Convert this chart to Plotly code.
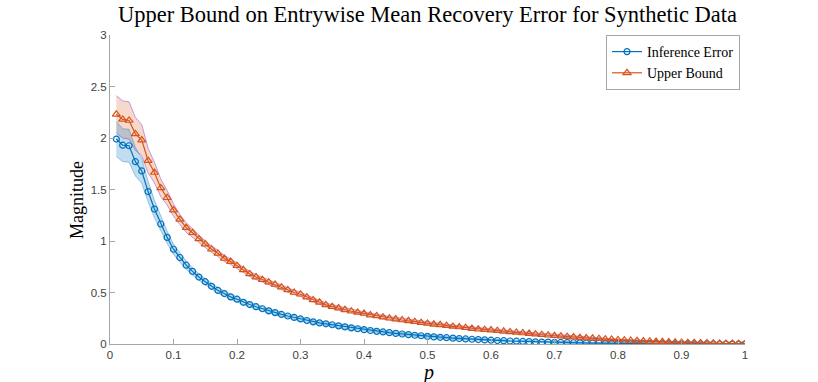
import plotly.graph_objects as go

# sampling probability p = 0.01 ... 1.00
p_values = [round(0.01 * k, 2) for k in range(1, 101)]

inference_error = [
    1.99, 1.93, 1.925, 1.77, 1.68, 1.48, 1.31, 1.165, 1.035, 0.92,
    0.84, 0.765, 0.705, 0.65, 0.605, 0.56, 0.52, 0.49, 0.458, 0.435,
    0.405, 0.383, 0.362, 0.342, 0.322, 0.305, 0.287, 0.272, 0.258, 0.243,
    0.228, 0.215, 0.205, 0.196, 0.187, 0.176, 0.166, 0.157, 0.148, 0.139,
    0.131, 0.123, 0.117, 0.110, 0.103, 0.097, 0.091, 0.085, 0.080, 0.074,
    0.069, 0.065, 0.061, 0.057, 0.053, 0.049, 0.046, 0.043, 0.040, 0.037,
    0.034, 0.032, 0.029, 0.027, 0.025, 0.023, 0.021, 0.019, 0.018, 0.016,
    0.015, 0.013, 0.012, 0.011, 0.010, 0.009, 0.008, 0.007, 0.006, 0.006,
    0.005, 0.004, 0.004, 0.003, 0.003, 0.002, 0.002, 0.002, 0.001, 0.001,
    0.001, 0.001, 0.001, 0.001, 0.000, 0.000, 0.000, 0.000, 0.000, 0.000,
]

inference_spread = [
    0.17, 0.16, 0.16, 0.14, 0.12, 0.10, 0.085, 0.07, 0.06, 0.05,
    0.045, 0.04, 0.035, 0.032, 0.03, 0.028, 0.027, 0.026, 0.025, 0.024,
    0.023, 0.023, 0.022, 0.022, 0.021, 0.021, 0.020, 0.020, 0.020, 0.019,
    0.019, 0.019, 0.018, 0.018, 0.018, 0.017, 0.017, 0.017, 0.016, 0.016,
    0.016, 0.016, 0.015, 0.015, 0.015, 0.015, 0.014, 0.014, 0.014, 0.014,
    0.013, 0.013, 0.013, 0.013, 0.012, 0.012, 0.012, 0.012, 0.011, 0.011,
    0.011, 0.011, 0.010, 0.010, 0.010, 0.010, 0.009, 0.009, 0.009, 0.009,
    0.008, 0.008, 0.008, 0.008, 0.007, 0.007, 0.007, 0.007, 0.006, 0.006,
    0.006, 0.006, 0.005, 0.005, 0.005, 0.005, 0.005, 0.004, 0.004, 0.004,
    0.004, 0.004, 0.003, 0.003, 0.003, 0.003, 0.003, 0.003, 0.003, 0.003,
]

upper_bound = [
    2.23, 2.18, 2.17, 2.04, 1.98, 1.78, 1.665, 1.515, 1.42, 1.30,
    1.21, 1.13, 1.08, 1.02, 0.97, 0.92, 0.88, 0.83, 0.80, 0.76,
    0.72, 0.68, 0.65, 0.625, 0.60, 0.578, 0.552, 0.525, 0.50, 0.483,
    0.455, 0.428, 0.405, 0.38, 0.363, 0.349, 0.332, 0.318, 0.307, 0.296,
    0.281, 0.273, 0.260, 0.250, 0.242, 0.233, 0.225, 0.216, 0.207, 0.200,
    0.191, 0.186, 0.178, 0.171, 0.165, 0.158, 0.150, 0.143, 0.139, 0.135,
    0.129, 0.123, 0.117, 0.112, 0.107, 0.101, 0.095, 0.090, 0.085, 0.080,
    0.076, 0.071, 0.067, 0.062, 0.058, 0.055, 0.051, 0.047, 0.044, 0.040,
    0.037, 0.034, 0.031, 0.029, 0.026, 0.024, 0.021, 0.019, 0.017, 0.015,
    0.013, 0.012, 0.010, 0.009, 0.007, 0.006, 0.005, 0.004, 0.002, 0.000,
]

upper_spread = [
    0.18, 0.18, 0.18, 0.16, 0.15, 0.12, 0.10, 0.085, 0.07, 0.06,
    0.05, 0.045, 0.04, 0.036, 0.033, 0.031, 0.030, 0.029, 0.028, 0.027,
    0.026, 0.025, 0.024, 0.024, 0.023, 0.023, 0.022, 0.022, 0.021, 0.021,
    0.020, 0.020, 0.020, 0.019, 0.019, 0.019, 0.018, 0.018, 0.018, 0.017,
    0.017, 0.017, 0.016, 0.016, 0.016, 0.016, 0.015, 0.015, 0.015, 0.015,
    0.014, 0.014, 0.014, 0.014, 0.013, 0.013, 0.013, 0.013, 0.012, 0.012,
    0.012, 0.012, 0.011, 0.011, 0.011, 0.011, 0.010, 0.010, 0.010, 0.010,
    0.009, 0.009, 0.009, 0.009, 0.008, 0.008, 0.008, 0.008, 0.007, 0.007,
    0.007, 0.007, 0.006, 0.006, 0.006, 0.006, 0.005, 0.005, 0.005, 0.005,
    0.005, 0.004, 0.004, 0.004, 0.004, 0.004, 0.003, 0.003, 0.003, 0.003,
]

x_ticks = [0, 0.1, 0.2, 0.3, 0.4, 0.5, 0.6, 0.7, 0.8, 0.9, 1]
x_tick_text = ["0", "0.1", "0.2", "0.3", "0.4", "0.5", "0.6", "0.7", "0.8", "0.9", "1"]
y_ticks = [0, 0.5, 1, 1.5, 2, 2.5, 3]
y_tick_text = ["0", "0.5", "1", "1.5", "2", "2.5", "3"]

BLUE = "#0072BD"
ORANGE = "#D95319"
SERIF = "Liberation Serif, Times New Roman, serif"
SANS = "Liberation Sans, Arial, sans-serif"

W, H = 818, 382
ML, MR, MT, MB = 110, 73, 35, 38


def band(mean, spread, fill, edge):
    upper = [m + s for m, s in zip(mean, spread)]
    lower = [m - s for m, s in zip(mean, spread)]
    return go.Scatter(
        x=p_values + p_values[::-1],
        y=upper + lower[::-1],
        mode="lines",
        fill="toself",
        fillcolor=fill,
        line=dict(color=edge, width=1),
        hoverinfo="skip",
        showlegend=False,
    )


fig = go.Figure()
fig.add_trace(band(upper_bound, upper_spread, "rgba(217,83,25,0.22)", "rgba(175,120,210,0.75)"))
fig.add_trace(band(inference_error, inference_spread, "rgba(0,114,189,0.24)", "rgba(0,114,189,0.35)"))

fig.add_trace(go.Scatter(
    x=p_values, y=inference_error, name="Inference Error",
    mode="lines+markers",
    line=dict(color=BLUE, width=1.2),
    marker=dict(symbol="circle-open", size=6, color=BLUE, line=dict(width=1.2, color=BLUE)),
))
fig.add_trace(go.Scatter(
    x=p_values, y=upper_bound, name="Upper Bound",
    mode="lines+markers",
    line=dict(color=ORANGE, width=1.2),
    marker=dict(symbol="triangle-up-open", size=7, color=ORANGE, line=dict(width=1.2, color=ORANGE)),
))

axis_common = dict(
    showline=True, linecolor="#a6a6a6", linewidth=1,
    ticks="inside", ticklen=5, tickcolor="#a6a6a6",
    showgrid=False, zeroline=False, automargin=False,
    tickfont=dict(family=SANS, size=11.5, color="#404040"),
    mirror=False,
)

plot_w = W - ML - MR
plot_h = H - MT - MB

fig.update_layout(
    width=W, height=H,
    margin=dict(l=ML, r=MR, t=MT, b=MB, autoexpand=False),
    paper_bgcolor="white", plot_bgcolor="white",
    title=dict(
        text="Upper Bound on Entrywise Mean Recovery Error for Synthetic Data",
        font=dict(family=SERIF, size=22.5, color="#000000"),
        x=(ML + plot_w / 2) / W, xanchor="center",
        y=1 - 14 / H, yanchor="middle",
    ),
    xaxis=dict(range=[0, 1], tickvals=x_ticks, ticktext=x_tick_text, **axis_common),
    yaxis=dict(range=[0, 3], tickvals=y_ticks, ticktext=y_tick_text, **axis_common),
    legend=dict(
        x=(740 - ML) / plot_w, y=1.0, xanchor="right", yanchor="top",
        bgcolor="white", bordercolor="#a6a6a6", borderwidth=1,
        font=dict(family=SERIF, size=14, color="#000000"),
        itemwidth=30, tracegroupgap=0,
    ),
    showlegend=True,
    annotations=[
        dict(text="<i>p</i>", xref="paper", yref="paper",
             x=0.5, y=-(372 - (H - MB)) / plot_h, xanchor="center", yanchor="middle",
             showarrow=False, font=dict(family=SERIF, size=20, color="#000000")),
        dict(text="Magnitude", xref="paper", yref="paper", textangle=-90,
             x=-(ML - 77) / plot_w, y=(H - MB - 200) / plot_h, xanchor="center", yanchor="middle",
             showarrow=False, font=dict(family=SERIF, size=18, color="#000000")),
    ],
)

fig.write_html("out.html")
